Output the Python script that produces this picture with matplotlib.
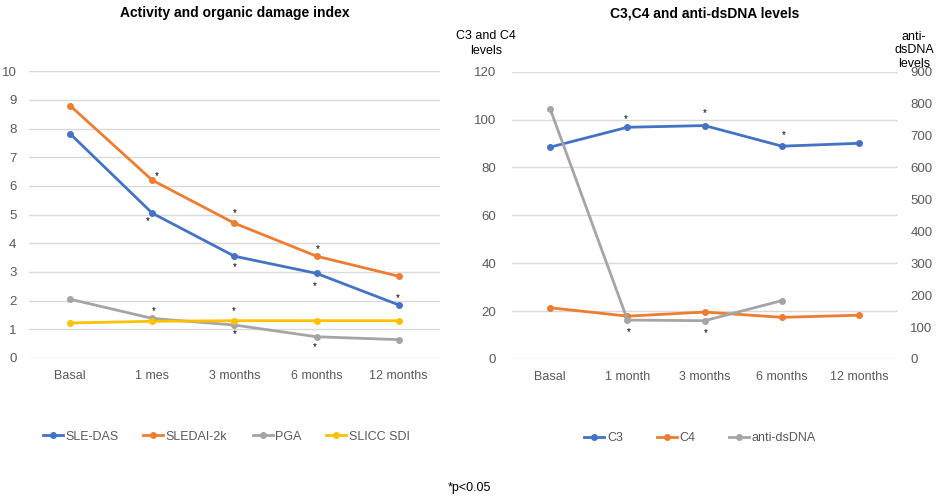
import numpy as np
import matplotlib
matplotlib.use("Agg")
import matplotlib.pyplot as plt

plt.rcParams['font.family'] = ['Liberation Sans', 'DejaVu Sans']

# ---- data ----
left_cats = ["Basal", "1 mes", "3 months", "6 months", "12 months"]
sle_das = [7.82, 5.05, 3.55, 2.95, 1.85]
sledai = [8.80, 6.20, 4.70, 3.55, 2.85]
pga = [2.05, 1.38, 1.15, 0.74, 0.64]
slicc = [1.22, 1.28, 1.30, 1.30, 1.30]

right_cats = ["Basal", "1 month", "3 months", "6 months", "12 months"]
c3 = [88.5, 96.8, 97.5, 88.9, 90.1]
c4 = [21.4, 17.9, 19.6, 17.4, 18.3]
anti_dsdna = [783, 122, 120, 183, np.nan]

# significance stars (category index, value on the axis)
left_stars = [(1.05, 6.36), (0.94, 4.76), (1.02, 1.62),
              (2.0, 5.06), (2.0, 3.16), (1.99, 1.62), (2.0, 0.84),
              (3.01, 3.80), (2.98, 2.50), (2.98, 0.38),
              (3.99, 2.08)]
right_stars = [(0.98, 100.2), (1.02, 11.4), (2.0, 102.6), (2.02, 10.7),
               (3.03, 93.6)]

BLUE = "#4472C4"
ORANGE = "#ED7D31"
GRAY = "#A5A5A5"
YELLOW = "#FFC000"
TICK = "#595959"
GRID = "#D9D9D9"

fig = plt.figure(figsize=(9.51, 5.04), dpi=100)


def style_axis(ax):
    for s in ax.spines.values():
        s.set_visible(False)
    ax.tick_params(length=0, colors=TICK, labelsize=9.5)
    ax.grid(axis='y', color=GRID, linewidth=1)
    ax.set_axisbelow(True)


def draw_line(ax, vals, color, label):
    ax.plot(range(len(vals)), vals, color=color, lw=2, marker='o',
            markersize=4, label=label)


legend_kw = dict(loc='center', frameon=False, fontsize=9, handlelength=1.6,
                 handletextpad=0.2, labelcolor=TICK)

# ---- left chart ----
ax1 = fig.add_axes([0.0305, 0.2897, 0.432, 0.569])
style_axis(ax1)
draw_line(ax1, sle_das, BLUE, "SLE-DAS")
draw_line(ax1, sledai, ORANGE, "SLEDAI-2k")
draw_line(ax1, pga, GRAY, "PGA")
draw_line(ax1, slicc, YELLOW, "SLICC SDI")
ax1.set_ylim(0, 10)
ax1.set_yticks(range(0, 11))
ax1.set_xlim(-0.5, 4.5)
ax1.set_xticks(range(5))
ax1.set_xticklabels(left_cats, fontsize=9)
ax1.tick_params(axis='x', pad=9)
ax1.tick_params(axis='y', pad=9)
for x, y in left_stars:
    ax1.text(x, y, "*", fontsize=7, ha='center', va='center')
ax1.set_title("Activity and organic damage index", fontsize=10,
              fontweight='bold', pad=39)
ax1.legend(bbox_to_anchor=(0.48, -0.275), ncol=4, columnspacing=2.0,
           **legend_kw)

# ---- right chart ----
ax2 = fig.add_axes([0.538, 0.2877, 0.406, 0.570])
style_axis(ax2)
ax3 = ax2.twinx()
for s in ax3.spines.values():
    s.set_visible(False)
ax3.tick_params(length=0, colors=TICK, labelsize=9.5)

draw_line(ax2, c3, BLUE, "C3")
draw_line(ax2, c4, ORANGE, "C4")
draw_line(ax3, anti_dsdna, GRAY, "anti-dsDNA")
ax2.set_ylim(0, 120)
ax2.set_yticks(range(0, 121, 20))
ax3.set_ylim(0, 900)
ax3.set_yticks(range(0, 901, 100))
ax2.set_xlim(-0.5, 4.5)
ax2.set_xticks(range(5))
ax2.set_xticklabels(right_cats, fontsize=9)
ax2.tick_params(axis='x', pad=9)
ax2.tick_params(axis='y', pad=11)
ax3.tick_params(axis='y', pad=9)
for x, y in right_stars:
    ax2.text(x, y, "*", fontsize=7, ha='center', va='center')
ax2.set_title("C3,C4 and anti-dsDNA levels", fontsize=10,
              fontweight='bold', pad=39)

fig.text(0.511, 0.914, "C3 and C4\nlevels", fontsize=9, ha='center',
         va='center', linespacing=1.3)
fig.text(0.961, 0.9, "anti-\ndsDNA\nlevels", fontsize=9, ha='center',
         va='center', linespacing=1.2)

h2, l2 = ax2.get_legend_handles_labels()
h3, l3 = ax3.get_legend_handles_labels()
ax2.legend(h2 + h3, l2 + l3, bbox_to_anchor=(0.488, -0.275), ncol=3,
           columnspacing=2.7, **legend_kw)

fig.text(0.494, 0.032, "*p<0.05", fontsize=9, ha='center', va='center')

fig.savefig("out.png", dpi=100)
